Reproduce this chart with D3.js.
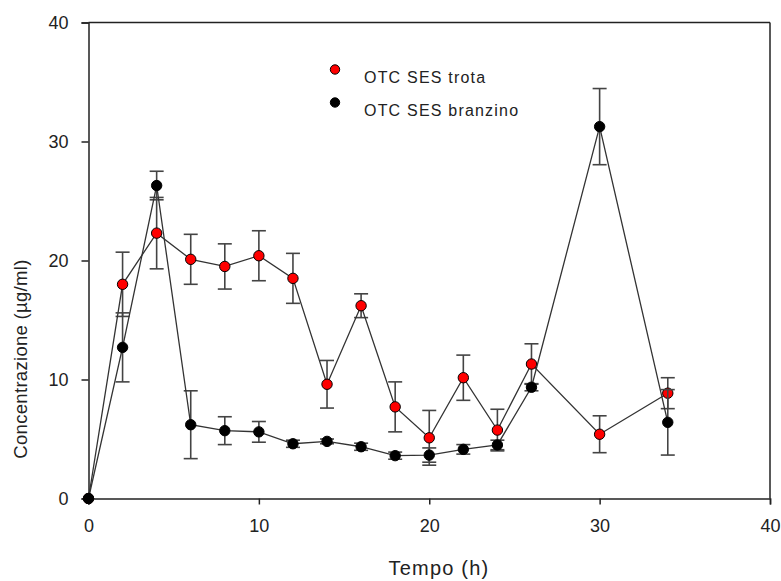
<!DOCTYPE html>
<html>
<head>
<meta charset="utf-8">
<script src="https://cdn.jsdelivr.net/npm/d3@7"></script>
<style>
  html, body { margin: 0; padding: 0; background: #fff; }
  svg { display: block; font-family: "Liberation Sans", Arial, sans-serif; }
</style>
</head>
<body>
<svg id="chart" width="781" height="581"></svg>
<script>
// Sampling times (h)
const time = [0, 2, 4, 6, 8, 10, 12, 14, 16, 18, 20, 22, 24, 26, 30, 34];
// OTC SES trota: mean concentration and error (µg/ml)
const trota    = [0, 18.0, 22.3, 20.1, 19.5, 20.4, 18.5, 9.6, 16.2, 7.7, 5.1, 10.15, 5.75, 11.3, 5.4, 8.85];
const trotaErr = [0, 2.7, 3.0, 2.1, 1.9, 2.1, 2.1, 2.0, 1.0, 2.1, 2.3, 1.9, 1.75, 1.7, 1.55, 1.3];
// OTC SES branzino: mean concentration and error (µg/ml)
const branzino    = [0, 12.7, 26.3, 6.2, 5.7, 5.6, 4.6, 4.8, 4.35, 3.6, 3.65, 4.13, 4.5, 9.35, 31.25, 6.4];
const branzinoErr = [0, 2.9, 1.2, 2.85, 1.17, 0.87, 0.3, 0.2, 0.3, 0.3, 0.6, 0.4, 0.4, 0.3, 3.2, 2.75];
// Axis ticks and labels
const xTicks = [0, 10, 20, 30, 40];
const yTicks = [0, 10, 20, 30, 40];
const seriesNames = ["OTC SES trota", "OTC SES branzino"];
const seriesColors = ["#ff0000", "#000000"];

const svg = d3.select("#chart");
const plotLeft = 88.5, plotRight = 770, plotTop = 22.5, plotBottom = 498.5;

const x = d3.scaleLinear().domain([0, 40]).range([plotLeft, plotRight]);
const y = d3.scaleLinear().domain([0, 40]).range([plotBottom, plotTop]);

const axisColor = "#222";
const textColor = "#222";

// Frame: top and right edges
svg.append("line").attr("x1", plotLeft).attr("x2", plotRight).attr("y1", plotTop).attr("y2", plotTop)
  .attr("stroke", axisColor).attr("stroke-width", 1.5);
svg.append("line").attr("x1", plotRight).attr("x2", plotRight).attr("y1", plotTop).attr("y2", plotBottom)
  .attr("stroke", axisColor).attr("stroke-width", 1.5);

// Bottom axis
const gx = svg.append("g").attr("transform", `translate(0,${plotBottom})`)
  .call(d3.axisBottom(x).tickValues(xTicks).tickSize(6).tickPadding(15).tickFormat(d3.format("d")));
// Left axis
const gy = svg.append("g").attr("transform", `translate(${plotLeft},0)`)
  .call(d3.axisLeft(y).tickValues(yTicks).tickSize(7).tickPadding(13).tickFormat(d3.format("d")));

[gx, gy].forEach(g => {
  g.select(".domain").attr("stroke", axisColor).attr("stroke-width", 1.5);
  g.selectAll(".tick line").attr("stroke", axisColor).attr("stroke-width", 1.5);
  g.selectAll(".tick text").attr("fill", textColor)
    .style("font-size", "18px").style("font-family", "'Liberation Sans', Arial, sans-serif");
});
gy.selectAll(".tick text").attr("dy", "0.36em");
gx.selectAll(".tick text").attr("dy", "0.72em");

// Axis titles
svg.append("text")
  .attr("x", 439).attr("y", 575)
  .attr("text-anchor", "middle")
  .attr("fill", textColor)
  .style("font-size", "20px")
  .style("letter-spacing", "1.2px")
  .text("Tempo (h)");

svg.append("text")
  .attr("transform", "translate(27,359) rotate(-90)")
  .attr("text-anchor", "middle")
  .attr("fill", textColor)
  .style("font-size", "18.5px")
  .style("letter-spacing", "0.3px")
  .text("Concentrazione (µg/ml)");

// Series
const series = [
  { values: trota, err: trotaErr, color: seriesColors[0] },
  { values: branzino, err: branzinoErr, color: seriesColors[1] }
];

const line = d3.line().x(d => x(d.t)).y(d => y(d.v));
const capHalf = 7;

series.forEach(s => {
  const pts = time.map((t, i) => ({ t, v: s.values[i], e: s.err[i] }));
  const g = svg.append("g");

  // Error bars
  const eb = g.selectAll("g.eb").data(pts.filter(p => p.e > 0)).join("g").attr("class", "eb");
  eb.append("line")
    .attr("x1", d => x(d.t)).attr("x2", d => x(d.t))
    .attr("y1", d => y(d.v - d.e)).attr("y2", d => y(d.v + d.e))
    .attr("stroke", "#444").attr("stroke-width", 1.6);
  eb.append("line")
    .attr("x1", d => x(d.t) - capHalf).attr("x2", d => x(d.t) + capHalf)
    .attr("y1", d => y(d.v + d.e)).attr("y2", d => y(d.v + d.e))
    .attr("stroke", "#444").attr("stroke-width", 1.6);
  eb.append("line")
    .attr("x1", d => x(d.t) - capHalf).attr("x2", d => x(d.t) + capHalf)
    .attr("y1", d => y(d.v - d.e)).attr("y2", d => y(d.v - d.e))
    .attr("stroke", "#444").attr("stroke-width", 1.6);

  // Connecting line
  g.append("path").datum(pts).attr("d", line)
    .attr("fill", "none").attr("stroke", "#333").attr("stroke-width", 1.3);

  // Markers
  g.selectAll("circle").data(pts).join("circle")
    .attr("cx", d => x(d.t)).attr("cy", d => y(d.v)).attr("r", 5.2)
    .attr("fill", s.color).attr("stroke", "#000").attr("stroke-width", 1);
});

// Legend
const legendY = [69.5, 102.5];
seriesNames.forEach((name, i) => {
  svg.append("circle").attr("cx", 335).attr("cy", legendY[i]).attr("r", 4.7)
    .attr("fill", seriesColors[i]).attr("stroke", "#000").attr("stroke-width", 1);
  svg.append("text")
    .attr("x", 364).attr("y", legendY[i] + 13.8)
    .attr("fill", textColor)
    .style("font-size", "16px")
    .style("letter-spacing", "1.2px")
    .text(name);
});
</script>
</body>
</html>
